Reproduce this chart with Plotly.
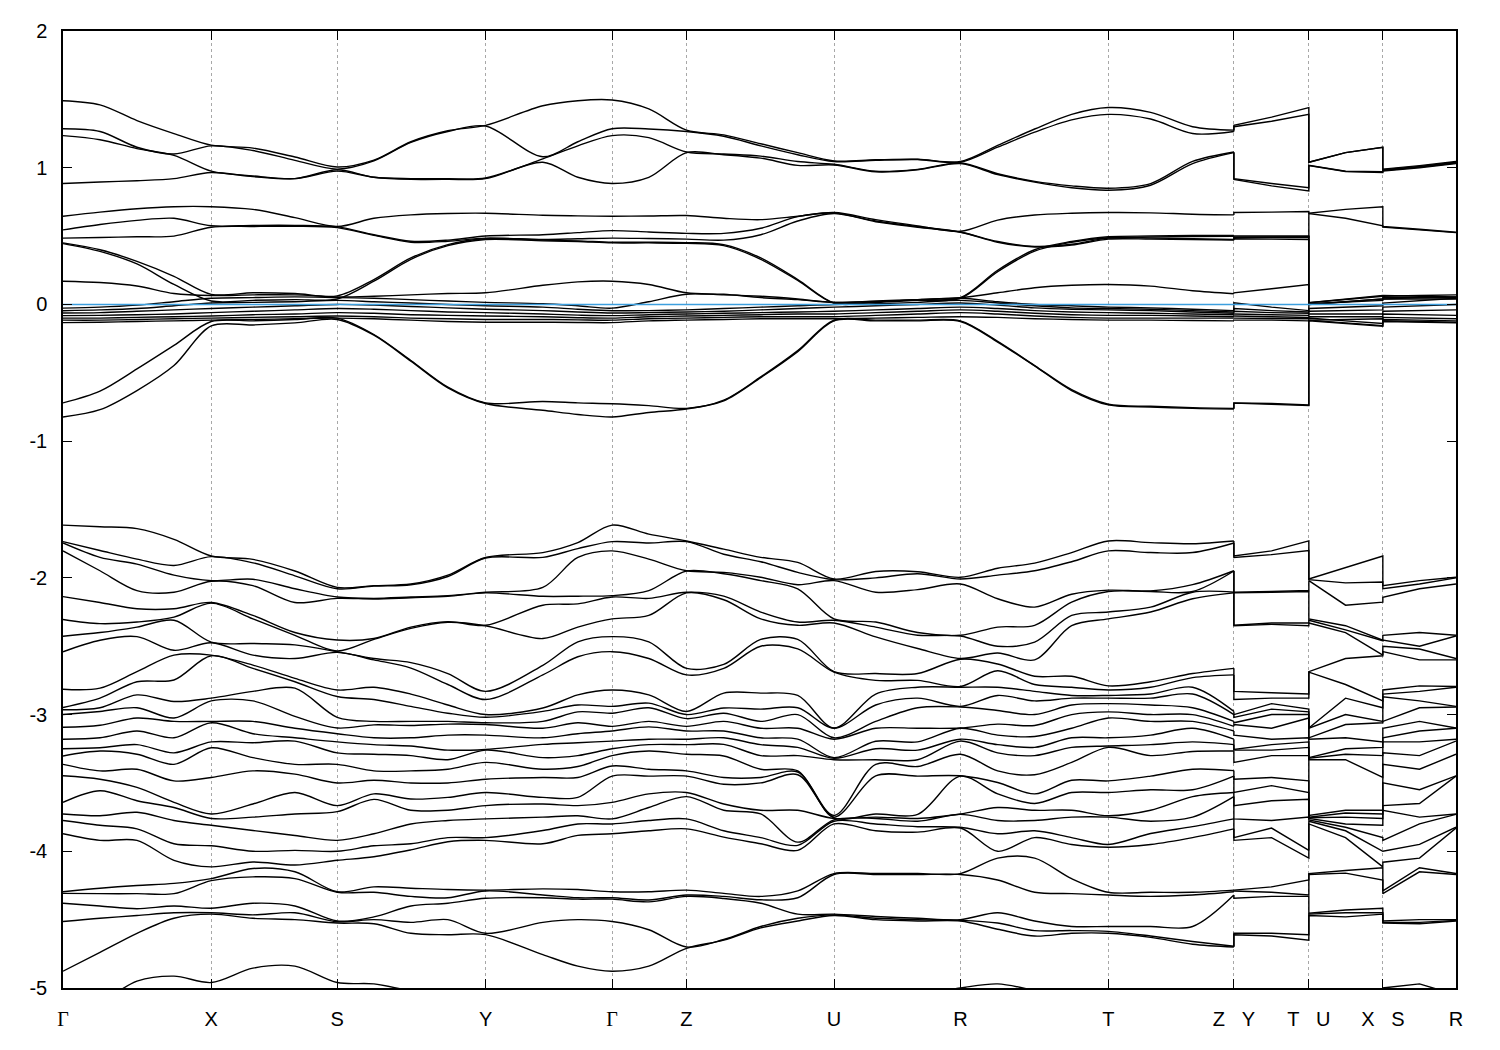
import plotly.graph_objects as go

# ---- k-path sample positions (arbitrary path units) ----
K = [0, 37, 74, 111, 148.3, 190, 232, 274.3, 311, 348, 385, 422.7, 480, 515, 549.3,
     586, 623.7, 661, 698, 735, 771.3, 813, 855, 897.7, 935, 972, 1009, 1045.7,
     1088, 1130, 1171.3, 1171.3, 1209, 1246.3, 1246.3, 1283, 1320.3, 1320.3, 1357, 1393.5]

TICK_POS = [0, 148.3, 274.3, 422.7, 549.3, 623.7, 771.3, 897.7, 1045.7, 1171.3, 1246.3, 1320.3, 1393.5]
NB = "\u00a0"
GAMMA = '<span style="font-family:Liberation Serif, DejaVu Serif, serif">Γ</span>'
TICK_TEXT = [GAMMA, "X", "S", "Y", GAMMA, "Z", "U", "R", "T",
             "Z" + NB * 3 + "Y", "T" + NB * 3 + "U", "X" + NB * 3 + "S", "R"]
Y_TICKS = [-5, -4, -3, -2, -1, 0, 1, 2]
Y_TEXT = ["-5", "-4", "-3", "-2", "-1", "0", "1", "2"]

# ---- upper bands (eV), one value per sample position ----
C1 = [1.49, 1.46, 1.345, 1.25, 1.165, 1.143, 1.078, 1.005, 1.055, 1.19, 1.27, 1.31, 1.453, 1.49, 1.495,
      1.43, 1.275, 1.24, 1.175, 1.11, 1.05, 1.058, 1.062, 1.045, 1.163, 1.283, 1.39, 1.44, 1.405, 1.30, 1.275,
      1.31, 1.37, 1.44, 1.04, 1.11, 1.15, 0.99, 1.015, 1.045]
C2 = [1.285, 1.265, 1.15, 1.10, 1.16, 1.126, 1.054, 0.99, 1.05, 1.185, 1.265, 1.305, 1.08, 1.19, 1.285,
      1.283, 1.265, 1.23, 1.16, 1.095, 1.045, 1.055, 1.06, 1.04, 1.15, 1.26, 1.35, 1.39, 1.356, 1.25, 1.265,
      1.30, 1.34, 1.39, 1.04, 1.11, 1.15, 0.985, 1.01, 1.04]
C3 = [1.235, 1.205, 1.14, 1.09, 0.975, 0.94, 0.92, 0.985, 0.93, 0.92, 0.92, 0.925, 1.065, 1.16, 1.235,
      1.22, 1.115, 1.10, 1.085, 1.045, 1.025, 0.974, 0.988, 1.035, 0.956, 0.90, 0.867, 0.85, 0.884, 1.046, 1.115,
      0.92, 0.885, 0.853, 1.017, 0.974, 0.97, 0.98, 1.005, 1.035]
C4 = [0.885, 0.895, 0.905, 0.92, 0.965, 0.935, 0.92, 0.975, 0.93, 0.915, 0.915, 0.92, 1.04, 0.93, 0.885,
      0.93, 1.11, 1.095, 1.07, 1.017, 1.02, 0.97, 0.985, 1.03, 0.95, 0.895, 0.853, 0.835, 0.872, 1.03, 1.11,
      0.915, 0.867, 0.83, 1.015, 0.972, 0.965, 0.975, 1.0, 1.03]
M1 = [0.645, 0.675, 0.70, 0.715, 0.715, 0.695, 0.635, 0.57, 0.63, 0.655, 0.665, 0.667, 0.652, 0.648, 0.645,
      0.647, 0.65, 0.63, 0.62, 0.645, 0.672, 0.62, 0.575, 0.535, 0.617, 0.654, 0.667, 0.672, 0.67, 0.66, 0.655,
      0.672, 0.675, 0.68, 0.667, 0.695, 0.715, 0.57, 0.55, 0.528]
M2 = [0.545, 0.585, 0.615, 0.63, 0.575, 0.578, 0.578, 0.567, 0.51, 0.462, 0.47, 0.50, 0.51, 0.525, 0.54,
      0.53, 0.52, 0.52, 0.557, 0.642, 0.668, 0.61, 0.57, 0.53, 0.46, 0.425, 0.44, 0.485, 0.485, 0.48, 0.475,
      0.49, 0.49, 0.49, 0.665, 0.63, 0.575, 0.565, 0.545, 0.525]
M3 = [0.485, 0.49, 0.495, 0.50, 0.565, 0.57, 0.572, 0.562, 0.505, 0.455, 0.462, 0.485, 0.475, 0.48, 0.485,
      0.482, 0.478, 0.47, 0.51, 0.61, 0.665, 0.605, 0.565, 0.528, 0.455, 0.42, 0.435, 0.478, 0.478, 0.475, 0.47,
      0.48, 0.478, 0.475, 0.012, 0.035, 0.06, 0.06, 0.065, 0.07]
D1 = [0.45, 0.40, 0.315, 0.206, 0.074, 0.085, 0.08, 0.063, 0.182, 0.34, 0.437, 0.48, 0.47, 0.465, 0.455,
      0.455, 0.452, 0.437, 0.34, 0.182, 0.012, 0.02, 0.035, 0.05, 0.25, 0.40, 0.46, 0.495, 0.50, 0.505, 0.505,
      0.50, 0.50, 0.50, 0.0, 0.02, 0.04, 0.05, 0.05, 0.05]
D2 = [0.445, 0.388, 0.296, 0.146, 0.025, 0.03, 0.035, 0.04, 0.17, 0.33, 0.43, 0.475, 0.465, 0.46, 0.45,
      0.45, 0.447, 0.43, 0.33, 0.175, 0.008, 0.015, 0.03, 0.045, 0.24, 0.39, 0.455, 0.488, 0.492, 0.497, 0.498,
      0.492, 0.493, 0.495, 0.005, 0.015, 0.03, 0.04, 0.04, 0.04]
F0 = [0.17, 0.16, 0.135, 0.08, 0.065, 0.07, 0.07, 0.055, 0.06, 0.07, 0.08, 0.085, 0.14, 0.165, 0.17,
      0.146, 0.085, 0.074, 0.05, 0.035, 0.015, 0.02, 0.035, 0.05, 0.085, 0.122, 0.14, 0.146, 0.134, 0.10, 0.078,
      0.085, 0.115, 0.146, 0.012, 0.04, 0.065, 0.065, 0.06, 0.055]
F1 = [-0.027, -0.02, -0.005, 0.02, 0.045, 0.05, 0.055, 0.05, 0.045, 0.035, 0.025, 0.015, 0.005, -0.01, -0.027,
      0.02, 0.075, 0.07, 0.06, 0.04, 0.015, 0.025, 0.035, 0.045, 0.02, 0.0, -0.01, -0.02, -0.025, -0.035, -0.045,
      0.012, -0.02, -0.045, 0.0, 0.02, 0.04, 0.04, 0.05, 0.055]
F2 = [-0.046, -0.04, -0.03, -0.01, 0.01, 0.015, 0.02, 0.03, 0.02, 0.01, 0.0, -0.01, -0.02, -0.035, -0.046,
      -0.045, -0.04, -0.03, -0.02, -0.01, 0.0, 0.005, 0.015, 0.03, 0.01, -0.01, -0.025, -0.03, -0.035, -0.045, -0.055,
      -0.03, -0.045, -0.055, -0.03, -0.02, -0.01, 0.01, 0.03, 0.045]
F3 = [-0.063, -0.06, -0.05, -0.04, -0.03, -0.02, -0.01, 0.0, -0.005, -0.015, -0.025, -0.035, -0.045, -0.055, -0.063,
      -0.06, -0.055, -0.05, -0.04, -0.03, -0.02, -0.01, 0.0, 0.01, -0.005, -0.025, -0.035, -0.04, -0.045, -0.055, -0.065,
      -0.05, -0.06, -0.065, -0.05, -0.045, -0.04, -0.02, -0.01, 0.0]
F4 = [-0.082, -0.08, -0.075, -0.07, -0.06, -0.05, -0.04, -0.03, -0.035, -0.045, -0.055, -0.06, -0.07, -0.078, -0.082,
      -0.075, -0.07, -0.065, -0.06, -0.055, -0.05, -0.04, -0.03, -0.02, -0.03, -0.045, -0.055, -0.06, -0.065, -0.07, -0.075,
      -0.07, -0.075, -0.08, -0.07, -0.07, -0.07, -0.05, -0.045, -0.04]
F5 = [-0.10, -0.10, -0.095, -0.09, -0.085, -0.075, -0.07, -0.06, -0.065, -0.075, -0.08, -0.085, -0.09, -0.097, -0.10,
      -0.09, -0.085, -0.08, -0.075, -0.07, -0.07, -0.06, -0.05, -0.04, -0.05, -0.065, -0.075, -0.08, -0.08, -0.085, -0.09,
      -0.085, -0.09, -0.095, -0.09, -0.09, -0.09, -0.07, -0.075, -0.08]
F6 = [-0.115, -0.115, -0.11, -0.105, -0.10, -0.095, -0.09, -0.085, -0.09, -0.10, -0.105, -0.11, -0.11, -0.113, -0.115,
      -0.105, -0.10, -0.095, -0.09, -0.09, -0.09, -0.08, -0.07, -0.06, -0.07, -0.085, -0.095, -0.10, -0.10, -0.10, -0.10,
      -0.10, -0.10, -0.105, -0.10, -0.12, -0.14, -0.095, -0.10, -0.105]
F7 = [-0.133, -0.13, -0.125, -0.12, -0.115, -0.11, -0.105, -0.10, -0.105, -0.115, -0.125, -0.13, -0.13, -0.132, -0.133,
      -0.12, -0.115, -0.11, -0.105, -0.105, -0.105, -0.10, -0.095, -0.09, -0.095, -0.105, -0.11, -0.115, -0.115, -0.118, -0.12,
      -0.115, -0.115, -0.12, -0.115, -0.11, -0.105, -0.11, -0.115, -0.12]
L1 = [-0.72, -0.634, -0.472, -0.30, -0.125, -0.12, -0.11, -0.10, -0.22, -0.41, -0.605, -0.72, -0.71, -0.72, -0.726,
      -0.74, -0.76, -0.70, -0.53, -0.338, -0.115, -0.115, -0.115, -0.12, -0.27, -0.447, -0.624, -0.73, -0.745, -0.755, -0.76,
      -0.72, -0.725, -0.735, -0.115, -0.135, -0.155, -0.12, -0.125, -0.13]
L2 = [-0.823, -0.77, -0.63, -0.447, -0.157, -0.15, -0.135, -0.11, -0.225, -0.415, -0.61, -0.725, -0.774, -0.805, -0.823,
      -0.79, -0.765, -0.705, -0.535, -0.345, -0.12, -0.12, -0.12, -0.125, -0.275, -0.45, -0.63, -0.735, -0.75, -0.76, -0.765,
      -0.722, -0.73, -0.74, -0.12, -0.14, -0.16, -0.125, -0.13, -0.135]

# ---- lower manifold: energies read at each sample column ----
c00 = [-1.614, -1.735, -1.745, -1.803, -2.137, -2.304, -2.427, -2.541, -2.815, -2.948, -2.965, -3.0, -3.093, -3.18, -3.25, -3.303, -3.364, -3.448, -3.642, -3.727, -3.775, -3.872, -4.296, -4.308, -4.38, -4.514, -4.877, -5.15]
c01 = [-1.626, -1.80, -1.85, -1.948, -2.18, -2.335, -2.40, -2.456, -2.807, -2.88, -2.95, -2.977, -3.078, -3.17, -3.243, -3.267, -3.412, -3.473, -3.557, -3.74, -3.81, -3.92, -4.27, -4.31, -4.40, -4.49, -4.74, -5.1]
c02 = [-1.64, -1.863, -1.90, -2.093, -2.226, -2.323, -2.36, -2.43, -2.686, -2.76, -2.856, -2.95, -3.025, -3.12, -3.22, -3.29, -3.40, -3.533, -3.63, -3.715, -3.836, -3.92, -4.25, -4.31, -4.42, -4.47, -4.60, -4.95]
c03 = [-1.718, -1.91, -1.98, -2.105, -2.226, -2.287, -2.31, -2.53, -2.565, -2.747, -2.904, -3.025, -3.05, -3.17, -3.28, -3.364, -3.485, -3.642, -3.68, -3.775, -3.945, -4.066, -4.235, -4.31, -4.40, -4.45, -4.49, -4.913]
c04 = [-1.84, -1.845, -2.02, -2.025, -2.18, -2.185, -2.47, -2.475, -2.565, -2.57, -2.88, -2.90, -3.05, -3.06, -3.20, -3.243, -3.46, -3.727, -3.76, -3.81, -3.96, -4.114, -4.20, -4.215, -4.417, -4.45, -4.46, -4.96]
c05 = [-1.865, -1.89, -2.01, -2.057, -2.275, -2.30, -2.48, -2.565, -2.638, -2.662, -2.83, -2.90, -3.05, -3.14, -3.206, -3.315, -3.412, -3.654, -3.75, -3.848, -4.0, -4.078, -4.126, -4.187, -4.38, -4.465, -4.49, -4.855]
c06 = [-1.95, -1.985, -2.08, -2.18, -2.40, -2.42, -2.49, -2.59, -2.735, -2.76, -2.807, -3.013, -3.10, -3.17, -3.194, -3.364, -3.436, -3.57, -3.727, -3.884, -3.993, -4.10, -4.15, -4.20, -4.40, -4.45, -4.50, -4.84]
c07 = [-2.07, -2.08, -2.14, -2.15, -2.455, -2.535, -2.54, -2.545, -2.82, -2.868, -3.02, -3.098, -3.14, -3.20, -3.28, -3.364, -3.50, -3.666, -3.71, -3.92, -4.0, -4.066, -4.296, -4.30, -4.51, -4.515, -4.525, -4.96]
c08 = [-2.057, -2.06, -2.15, -2.155, -2.444, -2.45, -2.59, -2.60, -2.80, -2.89, -3.05, -3.075, -3.17, -3.22, -3.29, -3.412, -3.48, -3.58, -3.62, -3.872, -3.96, -4.04, -4.26, -4.30, -4.48, -4.50, -4.53, -4.97]
c09 = [-2.045, -2.05, -2.14, -2.145, -2.36, -2.37, -2.62, -2.66, -2.85, -2.94, -3.05, -3.08, -3.17, -3.23, -3.30, -3.412, -3.50, -3.618, -3.70, -3.80, -3.945, -3.99, -4.27, -4.33, -4.40, -4.52, -4.60, -5.02]
c10 = [-1.98, -1.99, -2.13, -2.135, -2.32, -2.325, -2.70, -2.78, -2.93, -2.99, -3.05, -3.07, -3.15, -3.26, -3.33, -3.40, -3.50, -3.606, -3.70, -3.775, -3.90, -3.93, -4.28, -4.34, -4.38, -4.50, -4.61, -5.05]
c11 = [-1.851, -1.855, -2.105, -2.11, -2.347, -2.35, -2.83, -2.89, -3.0, -3.02, -3.06, -3.073, -3.15, -3.255, -3.26, -3.35, -3.473, -3.57, -3.666, -3.763, -3.90, -3.92, -4.284, -4.29, -4.344, -4.60, -4.61, -5.1]
c12 = [-1.815, -1.85, -2.07, -2.135, -2.20, -2.444, -2.64, -2.71, -2.952, -2.977, -3.05, -3.10, -3.17, -3.218, -3.315, -3.40, -3.46, -3.606, -3.654, -3.75, -3.848, -3.945, -4.275, -4.32, -4.34, -4.52, -4.756, -5.1]
c13 = [-1.742, -1.786, -1.851, -2.134, -2.19, -2.36, -2.468, -2.577, -2.856, -2.93, -2.98, -3.06, -3.14, -3.206, -3.30, -3.38, -3.46, -3.606, -3.666, -3.74, -3.80, -3.884, -4.28, -4.34, -4.35, -4.50, -4.84, -5.15]
c14 = [-1.614, -1.735, -1.803, -2.13, -2.14, -2.30, -2.43, -2.54, -2.82, -2.94, -2.99, -3.086, -3.12, -3.194, -3.25, -3.30, -3.376, -3.45, -3.642, -3.763, -3.80, -3.872, -4.296, -4.34, -4.35, -4.514, -4.877, -5.15]
c15 = [-1.68, -1.745, -1.863, -2.093, -2.15, -2.275, -2.468, -2.59, -2.856, -2.916, -2.95, -3.05, -3.09, -3.18, -3.22, -3.267, -3.40, -3.45, -3.58, -3.68, -3.775, -3.85, -4.296, -4.356, -4.37, -4.574, -4.84, -5.1]
c16 = [-1.73, -1.735, -1.948, -1.95, -2.105, -2.11, -2.662, -2.71, -2.977, -3.0, -3.03, -3.086, -3.12, -3.18, -3.22, -3.29, -3.412, -3.45, -3.57, -3.60, -3.763, -3.836, -4.284, -4.32, -4.33, -4.70, -4.71, -5.1]
c17 = [-1.79, -1.827, -1.96, -1.97, -2.134, -2.16, -2.633, -2.662, -2.843, -2.952, -2.99, -3.05, -3.12, -3.17, -3.218, -3.303, -3.46, -3.51, -3.654, -3.70, -3.85, -3.896, -4.308, -4.33, -4.345, -4.645, -4.65, -5.1]
c18 = [-1.85, -1.882, -1.996, -2.02, -2.25, -2.30, -2.45, -2.50, -2.843, -2.96, -3.05, -3.10, -3.17, -3.22, -3.30, -3.40, -3.46, -3.50, -3.70, -3.727, -3.90, -3.945, -4.33, -4.355, -4.38, -4.55, -4.56, -5.1]
c19 = [-1.887, -1.96, -2.05, -2.08, -2.323, -2.347, -2.45, -2.52, -2.86, -2.95, -3.0, -3.10, -3.18, -3.24, -3.30, -3.412, -3.42, -3.44, -3.70, -3.933, -3.957, -3.993, -4.29, -4.34, -4.46, -4.49, -4.51, -5.1]
c20 = [-2.008, -2.013, -2.02, -2.30, -2.31, -2.33, -2.686, -2.69, -3.098, -3.10, -3.17, -3.18, -3.315, -3.32, -3.33, -3.738, -3.75, -3.755, -3.76, -3.77, -3.78, -3.80, -4.163, -4.17, -4.46, -4.465, -4.47, -5.1]
c21 = [-1.953, -2.0, -2.105, -2.323, -2.36, -2.432, -2.70, -2.75, -2.85, -2.93, -3.05, -3.10, -3.195, -3.25, -3.33, -3.364, -3.448, -3.727, -3.75, -3.76, -3.80, -3.85, -4.163, -4.17, -4.477, -4.49, -4.50, -5.1]
c22 = [-1.955, -1.97, -2.086, -2.40, -2.42, -2.517, -2.70, -2.75, -2.80, -2.88, -2.95, -3.10, -3.20, -3.26, -3.33, -3.38, -3.45, -3.73, -3.76, -3.78, -3.82, -3.86, -4.163, -4.17, -4.49, -4.50, -4.51, -5.05]
c23 = [-1.996, -2.008, -2.045, -2.42, -2.425, -2.59, -2.595, -2.795, -2.80, -2.94, -2.945, -3.098, -3.10, -3.18, -3.194, -3.29, -3.448, -3.45, -3.727, -3.73, -3.824, -3.83, -4.163, -4.17, -4.50, -4.505, -4.51, -5.0]
c24 = [-1.93, -1.98, -2.153, -2.36, -2.50, -2.55, -2.63, -2.68, -2.80, -2.86, -2.97, -3.07, -3.15, -3.22, -3.28, -3.412, -3.497, -3.58, -3.68, -3.775, -3.872, -4.00, -4.05, -4.21, -4.45, -4.525, -4.57, -4.97]
c25 = [-1.892, -1.948, -2.214, -2.347, -2.47, -2.60, -2.72, -2.78, -2.83, -2.90, -3.0, -3.08, -3.16, -3.24, -3.30, -3.44, -3.58, -3.65, -3.70, -3.775, -3.85, -3.90, -4.05, -4.30, -4.51, -4.58, -4.62, -5.02]
c26 = [-1.815, -1.882, -2.12, -2.178, -2.275, -2.35, -2.72, -2.80, -2.86, -2.88, -2.93, -3.0, -3.10, -3.17, -3.24, -3.35, -3.48, -3.57, -3.70, -3.75, -3.90, -3.95, -4.20, -4.31, -4.55, -4.58, -4.60, -5.1]
c27 = [-1.73, -1.803, -2.09, -2.10, -2.25, -2.30, -2.79, -2.82, -2.86, -2.88, -2.92, -2.98, -3.025, -3.17, -3.23, -3.24, -3.485, -3.57, -3.74, -3.75, -3.95, -3.97, -4.30, -4.32, -4.55, -4.586, -4.60, -5.1]
c28 = [-1.742, -1.815, -2.095, -2.10, -2.214, -2.25, -2.76, -2.80, -2.85, -2.88, -2.93, -3.0, -3.05, -3.15, -3.22, -3.30, -3.45, -3.55, -3.70, -3.78, -3.87, -3.95, -4.30, -4.33, -4.55, -4.62, -4.63, -5.1]
c29 = [-1.75, -1.815, -2.05, -2.10, -2.105, -2.153, -2.70, -2.73, -2.80, -2.85, -2.95, -3.0, -3.05, -3.10, -3.20, -3.27, -3.40, -3.55, -3.60, -3.75, -3.82, -3.90, -4.30, -4.32, -4.55, -4.66, -4.68, -5.1]
c30 = [-1.73, -1.745, -1.948, -1.95, -2.105, -2.11, -2.662, -2.71, -2.977, -3.0, -3.05, -3.086, -3.12, -3.18, -3.22, -3.267, -3.41, -3.45, -3.57, -3.60, -3.763, -3.836, -4.284, -4.296, -4.32, -4.695, -4.70, -5.1]
c31 = [-1.84, -1.851, -2.105, -2.11, -2.347, -2.35, -2.83, -2.89, -3.0, -3.02, -3.06, -3.073, -3.15, -3.255, -3.26, -3.35, -3.473, -3.57, -3.666, -3.763, -3.90, -3.92, -4.284, -4.29, -4.344, -4.60, -4.61, -5.1]
c32 = [-1.803, -1.83, -2.10, -2.105, -2.33, -2.34, -2.84, -2.88, -2.92, -2.96, -3.0, -3.10, -3.18, -3.22, -3.26, -3.30, -3.46, -3.52, -3.63, -3.775, -3.83, -3.90, -4.26, -4.30, -4.33, -4.60, -4.62, -5.1]
c33 = [-1.73, -1.80, -2.093, -2.10, -2.33, -2.35, -2.85, -2.88, -2.96, -2.98, -3.0, -3.025, -3.17, -3.20, -3.24, -3.30, -3.485, -3.57, -3.62, -3.75, -3.993, -4.05, -4.21, -4.32, -4.33, -4.61, -4.65, -5.1]
c34 = [-2.008, -2.013, -2.02, -2.30, -2.31, -2.33, -2.686, -2.69, -3.098, -3.10, -3.17, -3.18, -3.315, -3.32, -3.33, -3.738, -3.75, -3.755, -3.76, -3.77, -3.78, -3.80, -4.163, -4.17, -4.453, -4.46, -4.47, -5.1]
c35 = [-1.924, -2.037, -2.20, -2.35, -2.38, -2.40, -2.59, -2.78, -2.88, -3.00, -3.073, -3.17, -3.25, -3.29, -3.33, -3.70, -3.72, -3.75, -3.80, -3.824, -3.85, -3.90, -4.14, -4.16, -4.43, -4.45, -4.48, -5.1]
c36 = [-1.84, -2.03, -2.178, -2.456, -2.46, -2.565, -2.57, -2.90, -2.95, -3.05, -3.06, -3.20, -3.24, -3.30, -3.46, -3.70, -3.727, -3.76, -3.81, -3.90, -4.0, -4.114, -4.12, -4.21, -4.417, -4.45, -4.46, -5.05]
c37 = [-2.057, -2.08, -2.142, -2.42, -2.455, -2.50, -2.54, -2.82, -2.85, -2.87, -3.05, -3.10, -3.17, -3.20, -3.28, -3.364, -3.50, -3.666, -3.70, -3.92, -4.0, -4.08, -4.29, -4.31, -4.51, -4.52, -4.525, -5.0]
c38 = [-2.02, -2.045, -2.08, -2.40, -2.50, -2.52, -2.60, -2.79, -2.83, -2.90, -2.95, -3.05, -3.12, -3.20, -3.30, -3.40, -3.55, -3.65, -3.75, -3.80, -3.95, -4.05, -4.12, -4.15, -4.50, -4.52, -4.53, -4.97]
c39 = [-1.996, -2.0, -2.045, -2.42, -2.425, -2.59, -2.60, -2.795, -2.80, -2.94, -2.945, -3.098, -3.10, -3.18, -3.194, -3.29, -3.448, -3.45, -3.727, -3.73, -3.824, -3.83, -4.163, -4.17, -4.50, -4.505, -4.51, -5.05]

FERMI = 0.0

# ---- build band list ----
upper_bands = [C1, C2, C3, C4, M1, M2, M3, D1, D2, F0, F1, F2, F3, F4, F5, F6, F7, L1, L2]
lower_cols = [c00, c01, c02, c03, c04, c05, c06, c07, c08, c09, c10, c11, c12, c13, c14, c15, c16, c17, c18, c19,
              c20, c21, c22, c23, c24, c25, c26, c27, c28, c29, c30, c31, c32, c33, c34, c35, c36, c37, c38, c39]
n_low = min(len(c) for c in lower_cols)
cols_sorted = [sorted(c, reverse=True)[:n_low] for c in lower_cols]
lower_bands = [[col[i] for col in cols_sorted] for i in range(n_low)]
bands = [b for b in upper_bands if len(b) == len(K)] + lower_bands

JUMP = 30  # index of Z before the Z|Y break
xm, ym, xt, yt = [], [], [], []
for b in bands:
    xm += K[:JUMP + 1] + [None]
    ym += b[:JUMP + 1] + [None]
    xt += K[JUMP:] + [None]
    yt += b[JUMP:] + [None]

fig = go.Figure()
fig.add_trace(go.Scatter(x=xm, y=ym, mode="lines", line=dict(color="black", width=1.4, shape="spline", smoothing=0.9),
                         hoverinfo="skip", connectgaps=False))
fig.add_trace(go.Scatter(x=xt, y=yt, mode="lines", line=dict(color="black", width=1.4, shape="linear"),
                         hoverinfo="skip", connectgaps=False))
fig.add_trace(go.Scatter(x=[TICK_POS[0], TICK_POS[-1]], y=[FERMI, FERMI], mode="lines",
                         line=dict(color="#3d9fde", width=1.5), hoverinfo="skip"))

font = dict(family="Liberation Sans, Arial, sans-serif", size=20, color="black")
fig.update_layout(
    width=1484, height=1034, showlegend=False,
    plot_bgcolor="white", paper_bgcolor="white",
    margin=dict(l=55, r=35.5, t=20, b=50, pad=0),
    font=font,
    xaxis=dict(range=[TICK_POS[0], TICK_POS[-1]], tickmode="array", tickvals=TICK_POS, ticktext=TICK_TEXT,
               ticks="inside", ticklen=9, tickwidth=1, tickcolor="black",
               showline=True, linecolor="black", linewidth=1.5, mirror="allticks",
               showgrid=True, gridcolor="#a8a8a8", griddash="dot", gridwidth=1, zeroline=False,
               tickfont=font, ticklabelstandoff=12),
    yaxis=dict(range=[-5, 2], tickmode="array", tickvals=Y_TICKS, ticktext=Y_TEXT,
               ticks="inside", ticklen=9, tickwidth=1, tickcolor="black",
               showline=True, linecolor="black", linewidth=1.5, mirror="allticks",
               showgrid=False, zeroline=False, tickfont=font, ticklabelstandoff=10),
)

fig.write_html("out.html")
